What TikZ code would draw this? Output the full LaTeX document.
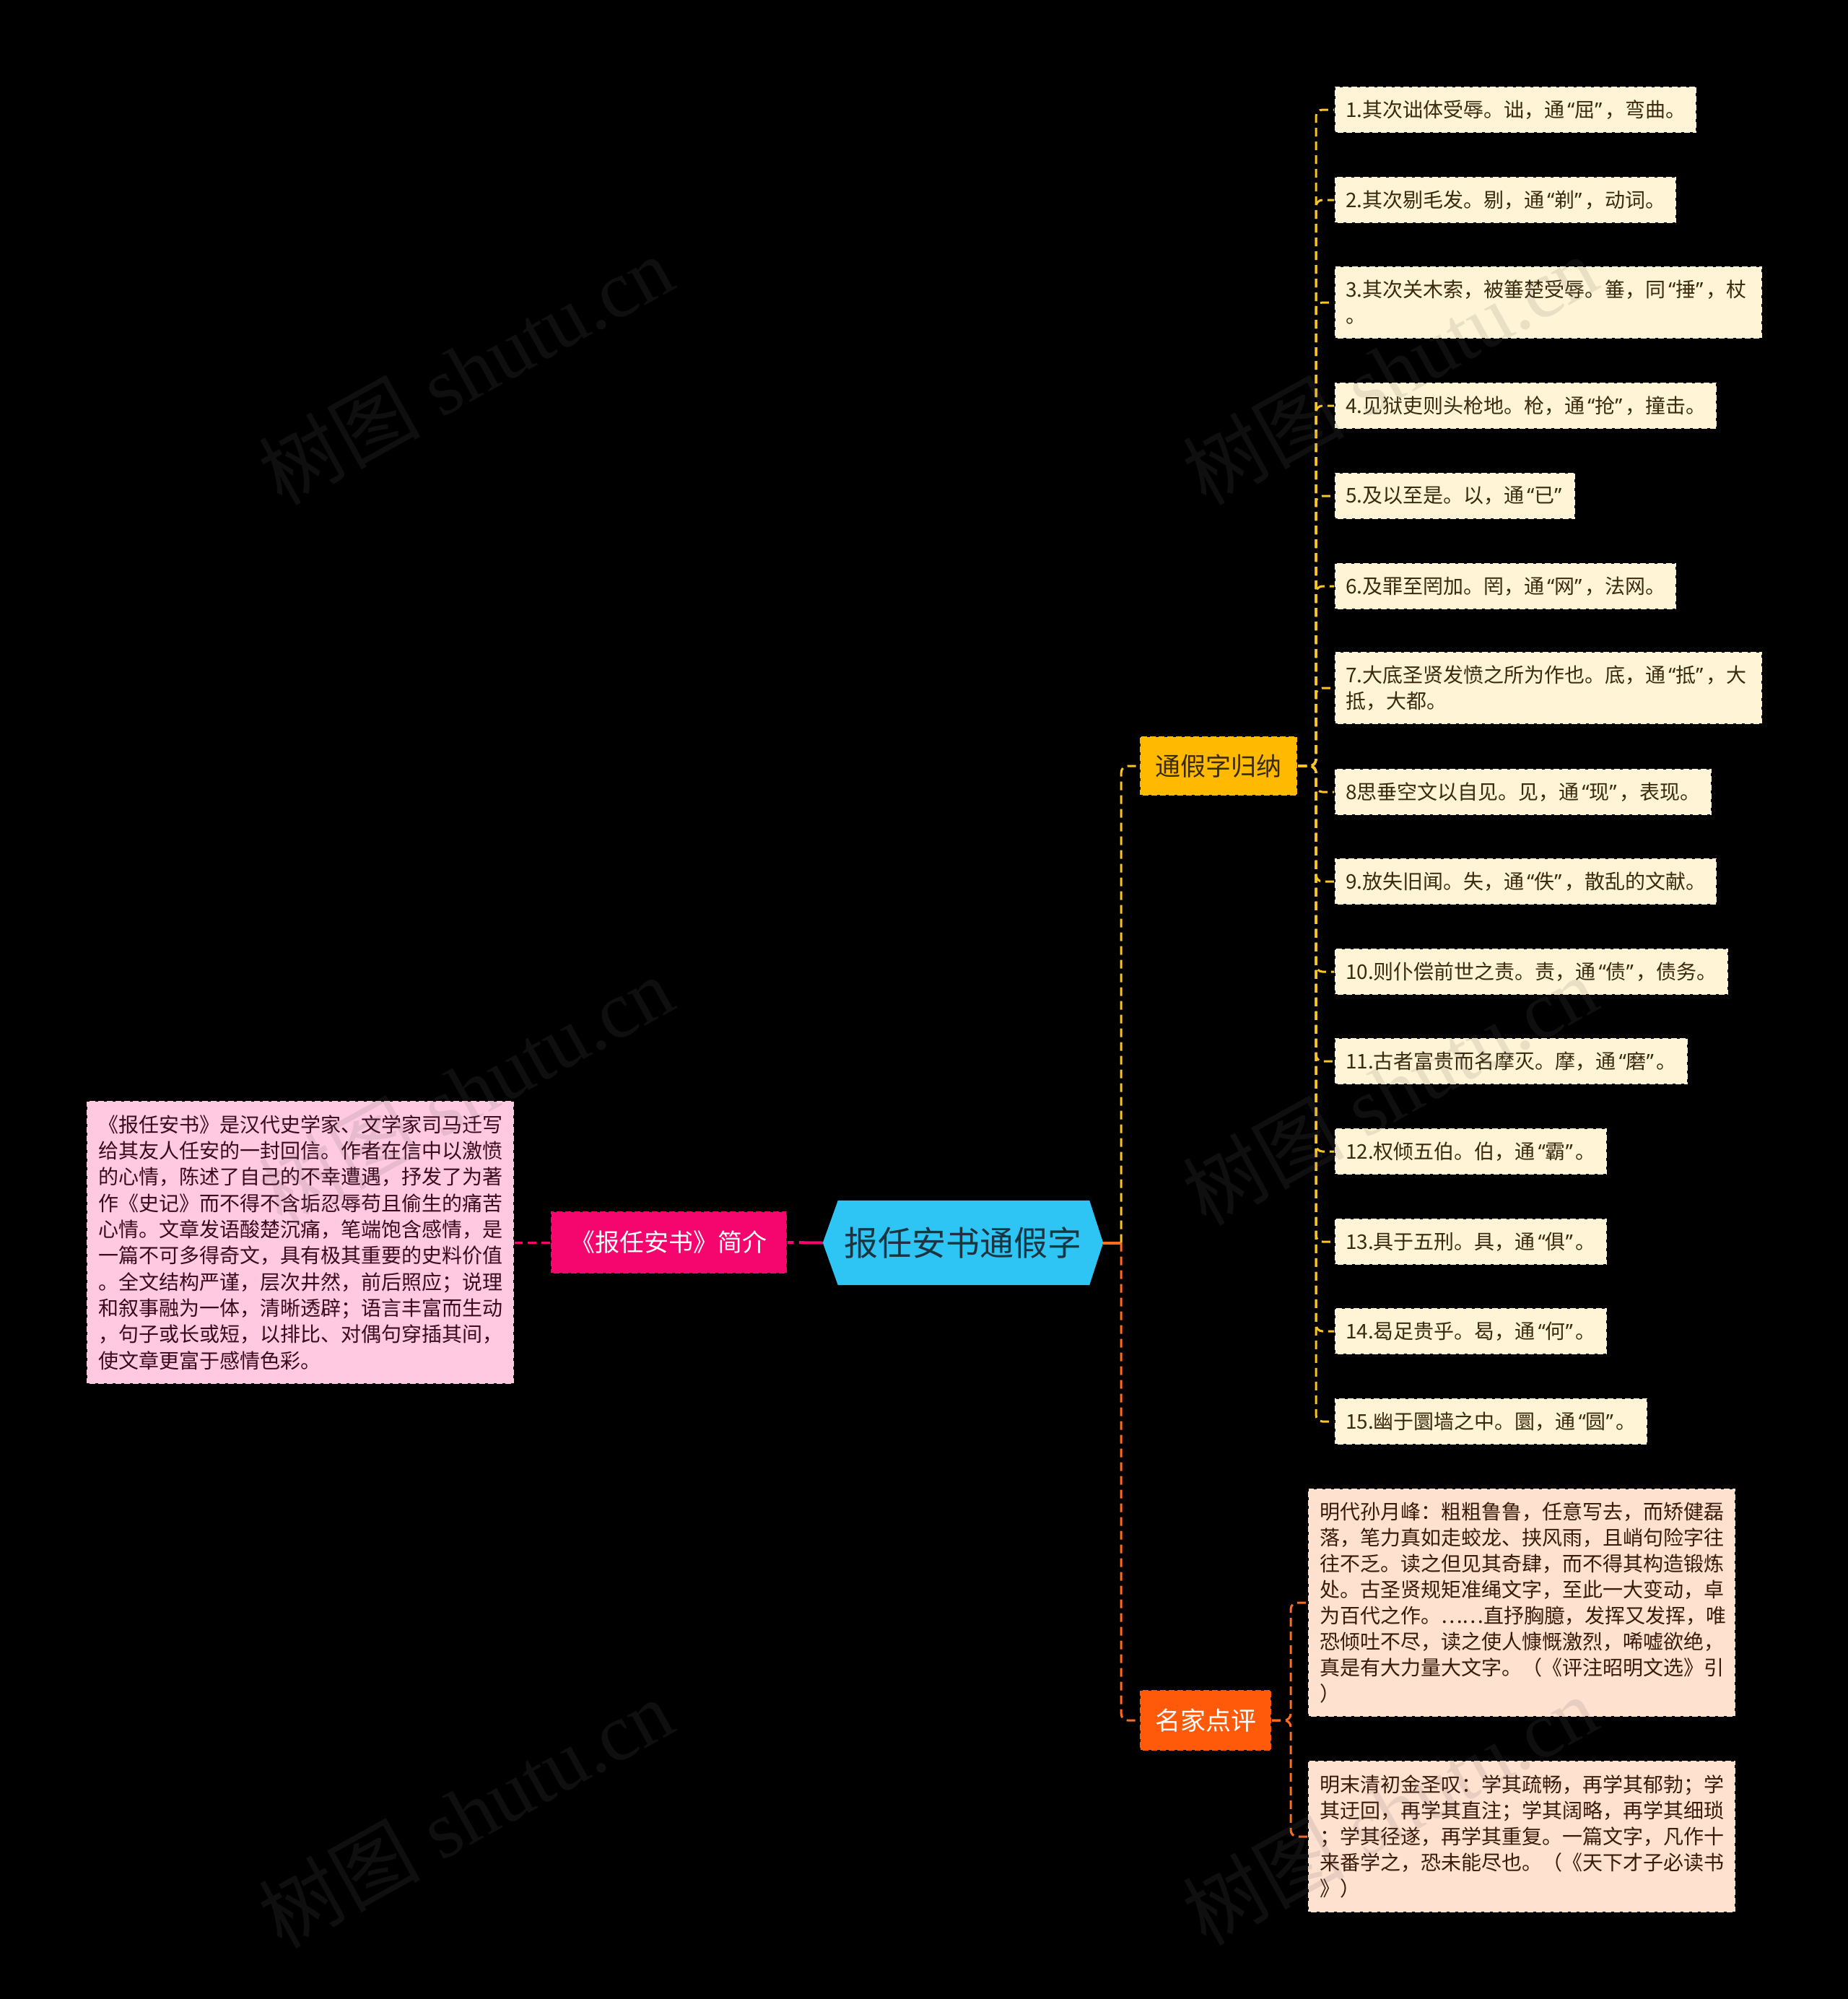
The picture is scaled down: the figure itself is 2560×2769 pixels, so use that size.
\documentclass[tikz,border=0pt]{standalone}
\usepackage{fontspec}
\setmainfont{Noto Sans CJK SC}
\newfontfamily\wmserif{Liberation Serif}
\newfontfamily\qfont{Noto Sans}
\usetikzlibrary{calc}
\pgfdeclarelayer{bg}
\pgfsetlayers{bg,main}
\newcommand\mysize[2]{\fontsize{#1pt}{#2pt}\selectfont}
\newcommand\oq{\kern4pt{\qfont “}}
\newcommand\cq{{\qfont ”}\kern4pt}
\definecolor{rootc}{HTML}{2EC4F3}
\definecolor{roottext}{HTML}{1C3340}
\definecolor{pinkc}{HTML}{F5066E}
\definecolor{pinklight}{HTML}{FFC9E1}
\definecolor{pinktext}{HTML}{3A0B1C}
\definecolor{yelc}{HTML}{FFBA00}
\definecolor{yelline}{HTML}{F7C42A}
\definecolor{yeltext}{HTML}{3A2A00}
\definecolor{cream}{HTML}{FFF5D6}
\definecolor{creamtext}{HTML}{3A2A10}
\definecolor{orgc}{HTML}{FF5A0A}
\definecolor{orgline}{HTML}{FF6B1F}
\definecolor{peach}{HTML}{FFE1D0}
\definecolor{peachtext}{HTML}{3A1A0A}
\tikzset{
  dline/.style={line width=3pt, dash pattern=on 12pt off 7pt, rounded corners=9pt},
  bx/.style={draw=black, line width=2pt, dash pattern=on 4pt off 8pt, inner ysep=0pt},
  itm/.style={bx, fill=cream, text=creamtext, anchor=west, font=\mysize{28}{36}, minimum height=64pt, inner xsep=15pt},
  itmtwo/.style={itm, text width=562pt, align=left, minimum height=100pt},
  lvl/.style={bx, inner xsep=0pt},
  rev/.style={bx, fill=peach, text=peachtext, font=\mysize{28}{36}, text width=560pt, inner xsep=16pt, align=left},
  wm/.style={text=black!60, text opacity=0.15, rotate=29, font=\mysize{112}{120}},
}
\begin{document}
\begin{tikzpicture}[x=1pt,y=-1pt]
\useasboundingbox (0,0) rectangle (2560,2769);

% root
\node[minimum width=388pt, minimum height=117pt, inner sep=0pt, text=roottext, font=\mysize{47}{56}] (root) at (1334,1721.5) {报任安书通假字};
\begin{pgfonlayer}{bg}
\fill[black] (0,0) rectangle (2560,2769);
\fill[rootc] (root.west) -- ($(root.north west)+(21,0)$) -- ($(root.north east)+(-19,0)$) -- (root.east) -- ($(root.south east)+(-19,0)$) -- ($(root.south west)+(21,0)$) -- cycle;
\end{pgfonlayer}

% left branch
\node[lvl, fill=pinkc, text=white, minimum width=327pt, minimum height=86pt, font=\mysize{34}{40}] (intro) at (926.5,1721) {《报任安书》简介};
\node[bx, fill=pinklight, text=pinktext, font=\mysize{28}{36.3}, text width=560pt, inner xsep=16pt, align=left, minimum height=392pt] (introtext) at (416,1721) {《报任安书》是汉代史学家、文学家司马迁写\\给其友人任安的一封回信。作者在信中以激愤\\的心情，陈述了自己的不幸遭遇，抒发了为著\\作《史记》而不得不含垢忍辱苟且偷生的痛苦\\心情。文章发语酸楚沉痛，笔端饱含感情，是\\一篇不可多得奇文，具有极其重要的史料价值\\。全文结构严谨，层次井然，前后照应；说理\\和叙事融为一体，清晰透辟；语言丰富而生动\\，句子或长或短，以排比、对偶句穿插其间，\\使文章更富于感情色彩。};

% right first level
\node[lvl, fill=yelc, text=yeltext, minimum width=218pt, minimum height=82pt, font=\mysize{35}{42}] (tj) at (1688,1061) {通假字归纳};
\node[lvl, fill=orgc, text=white, minimum width=182pt, minimum height=84pt, font=\mysize{35}{42}] (mj) at (1670,2383) {名家点评};

% items
\node[itm] (i1) at (1848,152) {1.其次诎体受辱。诎，通\oq 屈\cq，弯曲。};
\node[itm] (i2) at (1848,277) {2.其次剔毛发。剔，通\oq 剃\cq，动词。};
\node[itmtwo] (i3) at (1848,419) {3.其次关木索，被箠楚受辱。箠，同\oq 捶\cq，杖\\。};
\node[itm] (i4) at (1848,562) {4.见狱吏则头枪地。枪，通\oq 抢\cq，撞击。};
\node[itm] (i5) at (1848,687) {5.及以至是。以，通\oq 已\cq};
\node[itm] (i6) at (1848,812) {6.及罪至罔加。罔，通\oq 网\cq，法网。};
\node[itmtwo] (i7) at (1848,953) {7.大底圣贤发愤之所为作也。底，通\oq 抵\cq，大\\抵，大都。};
\node[itm] (i8) at (1848,1097) {8思垂空文以自见。见，通\oq 现\cq，表现。};
\node[itm] (i9) at (1848,1221) {9.放失旧闻。失，通\oq 佚\cq，散乱的文献。};
\node[itm] (i10) at (1848,1346) {10.则仆偿前世之责。责，通\oq 债\cq，债务。};
\node[itm] (i11) at (1848,1470) {11.古者富贵而名摩灭。摩，通\oq 磨\cq。};
\node[itm] (i12) at (1848,1595) {12.权倾五伯。伯，通\oq 霸\cq。};
\node[itm] (i13) at (1848,1720) {13.具于五刑。具，通\oq 俱\cq。};
\node[itm] (i14) at (1848,1844) {14.曷足贵乎。曷，通\oq 何\cq。};
\node[itm] (i15) at (1848,1969) {15.幽于圜墙之中。圜，通\oq 圆\cq。};

% reviews
\node[rev, minimum height=316pt] (m1) at (2108,2220) {明代孙月峰：粗粗鲁鲁，任意写去，而矫健磊\\落，笔力真如走蛟龙、挟风雨，且峭句险字往\\往不乏。读之但见其奇肆，而不得其构造锻炼\\处。古圣贤规矩准绳文字，至此一大变动，卓\\为百代之作。……直抒胸臆，发挥又发挥，唯\\恐倾吐不尽，读之使人慷慨激烈，唏嘘欲绝，\\真是有大力量大文字。（《评注昭明文选》引\\）};
\node[rev, minimum height=210pt] (m2) at (2108,2544) {明末清初金圣叹：学其疏畅，再学其郁勃；学\\其迂回，再学其直注；学其阔略，再学其细琐\\；学其径遂，再学其重复。一篇文字，凡作十\\来番学之，恐未能尽也。（《天下才子必读书\\》）};

% connectors
\draw[pinkc, line width=4pt, dash pattern=on 33pt off 8pt] (root.west) -- (intro.east);
\draw[dline, pinkc] (intro.west) -- (introtext.east);

\coordinate (rb) at ($(root.east)+(25,0)$);
\draw[orgline, line width=4pt] (root.east) -- (rb);
\draw[dline, yelline] (rb) |- (tj.west);
\draw[dline, orgline] (rb) |- (mj.west);

\coordinate (tb) at ($(tj.east)+(25,0)$);
\foreach \k in {1,...,15}{
  \draw[dline, yelline] (tj.east) -- (tb) |- (i\k.west);
}
\coordinate (mb) at ($(mj.east)+(26,0)$);
\draw[dline, orgline] (mj.east) -- (mb) |- (m1.west);
\draw[dline, orgline] (mj.east) -- (mb) |- (m2.west);

% watermarks
\node[wm] (wm1) at (645,512) {树图{\wmserif\ shutu.cn}};
\node[wm] (wm2) at (645,1510) {树图{\wmserif\ shutu.cn}};
\node[wm] (wm3) at (645,2511) {树图{\wmserif\ shutu.cn}};
\node[wm] (wm4) at (1925,512) {树图{\wmserif\ shutu.cn}};
\node[wm] (wm5) at (1925,1510) {树图{\wmserif\ shutu.cn}};
\node[wm] (wm6) at (1925,2507) {树图{\wmserif\ shutu.cn}};
\end{tikzpicture}
\end{document}
